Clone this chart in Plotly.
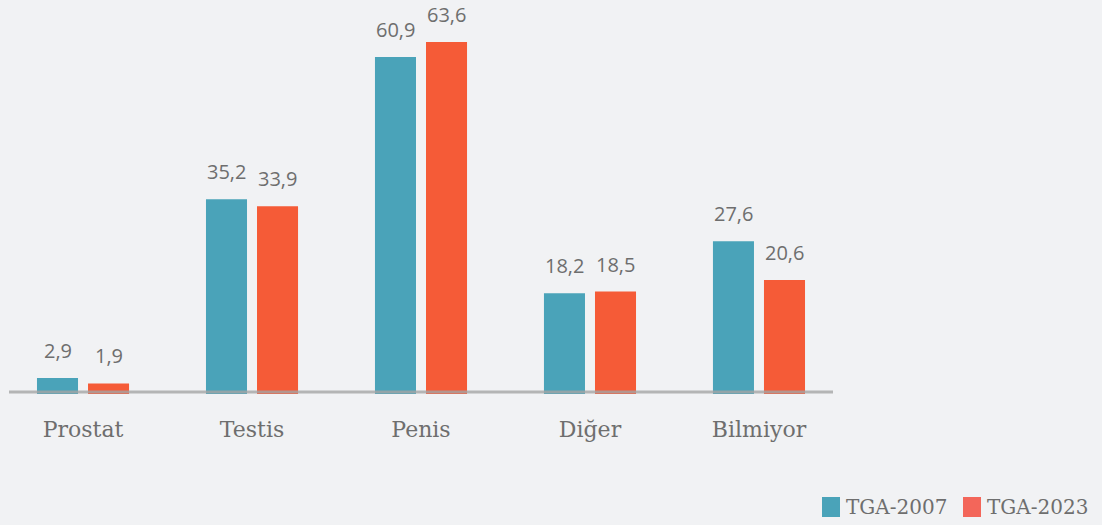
import plotly.graph_objects as go

categories = ["Prostat", "Testis", "Penis", "Diğer", "Bilmiyor"]
series_names = ["TGA-2007", "TGA-2023"]
values_2007 = [2.9, 35.2, 60.9, 18.2, 27.6]
values_2023 = [1.9, 33.9, 63.6, 18.5, 20.6]

bar_colors = ["#4aa3b9", "#f55b37"]
legend_colors = ["#4aa3b9", "#f3665a"]
text_color = "#6e6e6e"
bg = "#f1f2f4"

W, H = 1102, 525
ML, MR, MT, MB = 9, 269, 20, 125
PW, PH = W - ML - MR, H - MT - MB


def px_x(p):
    return (p - ML) / PW


def px_y(p):
    return (H - MB - p) / PH


def fmt(v):
    return f"{v:.1f}".replace(".", ",")


fig = go.Figure()
series = [values_2007, values_2023]
for name, vals, col in zip(series_names, series, bar_colors):
    fig.add_trace(go.Bar(x=categories, y=vals, name=name, marker_color=col,
                         marker_line_width=0, showlegend=False, hoverinfo="skip"))

annotations = []
for si, vals in enumerate(series):
    shift = -25.5 if si == 0 else 25.5
    for c, v in zip(categories, vals):
        annotations.append(dict(x=c, y=v, xref="x", yref="y", text=fmt(v),
                                showarrow=False, xshift=shift, yshift=12,
                                xanchor="center", yanchor="bottom",
                                font=dict(family="Open Sans", size=20, color=text_color)))

# legend (manual)
legend_x = [822, 963]
shapes = []
for name, col, lx in zip(series_names, legend_colors, legend_x):
    shapes.append(dict(type="rect", xref="paper", yref="paper",
                       x0=px_x(lx), x1=px_x(lx + 18), y0=px_y(517), y1=px_y(497),
                       fillcolor=col, line_width=0))
    annotations.append(dict(x=px_x(lx + 22), y=px_y(507), xref="paper", yref="paper",
                            text=name, showarrow=False, xanchor="left", yanchor="middle",
                            font=dict(family="DejaVu Serif", size=20, color=text_color)))

# baseline
shapes.append(dict(type="line", xref="paper", yref="y", x0=0, x1=1, y0=0.36, y1=0.36,
                   line=dict(color="rgba(165,165,165,0.8)", width=3), layer="above"))

fig.update_layout(
    width=W, height=H,
    margin=dict(l=ML, r=MR, t=MT, b=MB),
    paper_bgcolor=bg, plot_bgcolor=bg,
    barmode="group", bargap=0.396, bargroupgap=0.196,
    showlegend=False,
    annotations=annotations, shapes=shapes,
    xaxis=dict(range=[-0.438, 4.438], showgrid=False, zeroline=False, showline=False,
               ticks="", ticklabelstandoff=14,
               tickfont=dict(family="DejaVu Serif", size=22, color=text_color)),
    yaxis=dict(range=[-1.084, 67.57], visible=False, showgrid=False, zeroline=False),
)

fig.write_html("out.html", config={"displayModeBar": False},
               post_script="document.body.style.margin='0';document.body.style.background='%s';" % bg)
